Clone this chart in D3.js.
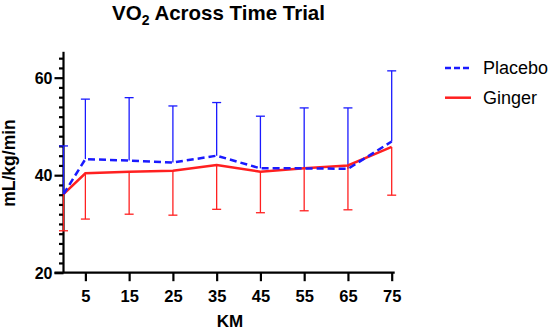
<!DOCTYPE html>
<html>
<head>
<meta charset="utf-8">
<script src="https://cdn.jsdelivr.net/npm/d3@7"></script>
<style>
  body { margin: 0; background: #fff; }
  svg text { font-family: "Liberation Sans", Arial, sans-serif; fill: #000; }
</style>
</head>
<body>
<svg id="chart" width="550" height="334"></svg>
<script>
// values
const km = [0, 5, 15, 25, 35, 45, 55, 65, 75];
const placebo = [36.1, 43.3, 43.0, 42.6, 44.0, 41.4, 41.4, 41.3, 46.9];
const placeboSD = [9.9, 12.3, 12.9, 11.6, 10.9, 10.7, 12.4, 12.5, 14.5];
const ginger = [36.1, 40.4, 40.7, 40.9, 42.1, 40.7, 41.4, 42.0, 45.8];
const gingerSD = [7.5, 9.4, 8.7, 9.1, 9.1, 8.4, 8.7, 9.1, 9.9];
const xTicks = [5, 15, 25, 35, 45, 55, 65, 75];
const yTicks = [20, 40, 60];

const svg = d3.select("#chart");

const x = d3.scaleLinear().domain([0, 75]).range([63.5, 391.7]);
const y = d3.scaleLinear().domain([20, 65]).range([272.7, 53.3]);

const BLUE = "#1a1aff";
const RED = "#ff2020";

// title
const title = svg.append("text")
  .attr("x", 218.5)
  .attr("y", 20)
  .attr("text-anchor", "middle")
  .style("font-size", "20.5px")
  .style("font-weight", "bold");
title.append("tspan").text("VO");
title.append("tspan").attr("dy", 5).style("font-size", "14px").text("2");
title.append("tspan").attr("dy", -5).text(" Across Time Trial");

// y axis: minor ticks every 2, labelled every 20
const yAxis = svg.append("g")
  .attr("transform", `translate(${x(0)},0)`)
  .call(d3.axisLeft(y).tickValues(d3.range(20, 65, 2)).tickSize(4.5).tickFormat(""));
yAxis.selectAll(".tick")
  .filter(d => yTicks.includes(d))
  .select("line").attr("x2", -9);
yAxis.selectAll(".tick")
  .filter(d => yTicks.includes(d))
  .append("text")
  .attr("x", -11)
  .attr("dy", "0.36em")
  .attr("text-anchor", "end")
  .style("font-size", "16px")
  .style("font-weight", "bold")
  .text(d => d);
yAxis.select(".domain").attr("d", `M0,${y(20)}V${y(65) - 1.5}`);

// x axis
const xAxis = svg.append("g")
  .attr("transform", `translate(0,${y(20)})`)
  .call(d3.axisBottom(x).tickValues(xTicks).tickSize(8.5).tickFormat(""));
xAxis.select(".domain").attr("d", `M${x(0) - 9},0H${x(75) + 3}`);
xAxis.selectAll(".tick")
  .append("text")
  .attr("y", 29)
  .attr("text-anchor", "middle")
  .style("font-size", "16.5px")
  .style("font-weight", "bold")
  .text(d => d);

svg.selectAll(".domain, .tick line")
  .attr("stroke", "#000")
  .attr("stroke-width", 2.2);
svg.selectAll(".tick text").attr("fill", "#000");

// axis titles
svg.append("text")
  .attr("x", 230)
  .attr("y", 326.7)
  .attr("text-anchor", "middle")
  .style("font-size", "17px")
  .style("font-weight", "bold")
  .text("KM");

svg.append("text")
  .attr("transform", "translate(15,163) rotate(-90)")
  .attr("text-anchor", "middle")
  .style("font-size", "17.5px")
  .style("font-weight", "bold")
  .text("mL/kg/min");

// error bars: placebo up, ginger down
function errorBars(means, sds, sign, colour) {
  const g = svg.append("g").attr("stroke", colour).attr("stroke-width", 1.3).attr("fill", "none");
  km.forEach((k, i) => {
    const px = x(k);
    const end = y(means[i] + sign * sds[i]);
    g.append("line").attr("x1", px).attr("x2", px).attr("y1", y(means[i])).attr("y2", end);
    g.append("line").attr("x1", px - 4.5).attr("x2", px + 4.5).attr("y1", end).attr("y2", end);
  });
}
errorBars(placebo, placeboSD, 1, BLUE);
errorBars(ginger, gingerSD, -1, RED);

const line = d3.line().x((d, i) => x(km[i])).y(d => y(d));

svg.append("path")
  .datum(ginger)
  .attr("d", line)
  .attr("fill", "none")
  .attr("stroke", RED)
  .attr("stroke-width", 2.5);

svg.append("path")
  .datum(placebo)
  .attr("d", line)
  .attr("fill", "none")
  .attr("stroke", BLUE)
  .attr("stroke-width", 2.5)
  .attr("stroke-dasharray", "7,4");

// legend
const legend = [
  { name: "Placebo", colour: BLUE, dash: "6,3", y: 68 },
  { name: "Ginger", colour: RED, dash: null, y: 97.7 }
];
const lg = svg.selectAll(".legend")
  .data(legend)
  .enter()
  .append("g")
  .attr("class", "legend");
lg.append("line")
  .attr("x1", 445)
  .attr("x2", 471)
  .attr("y1", d => d.y)
  .attr("y2", d => d.y)
  .attr("stroke", d => d.colour)
  .attr("stroke-width", 2.5)
  .attr("stroke-dasharray", d => d.dash);
lg.append("text")
  .attr("x", 483)
  .attr("y", d => d.y + 6)
  .style("font-size", "18px")
  .text(d => d.name);
</script>
</body>
</html>
